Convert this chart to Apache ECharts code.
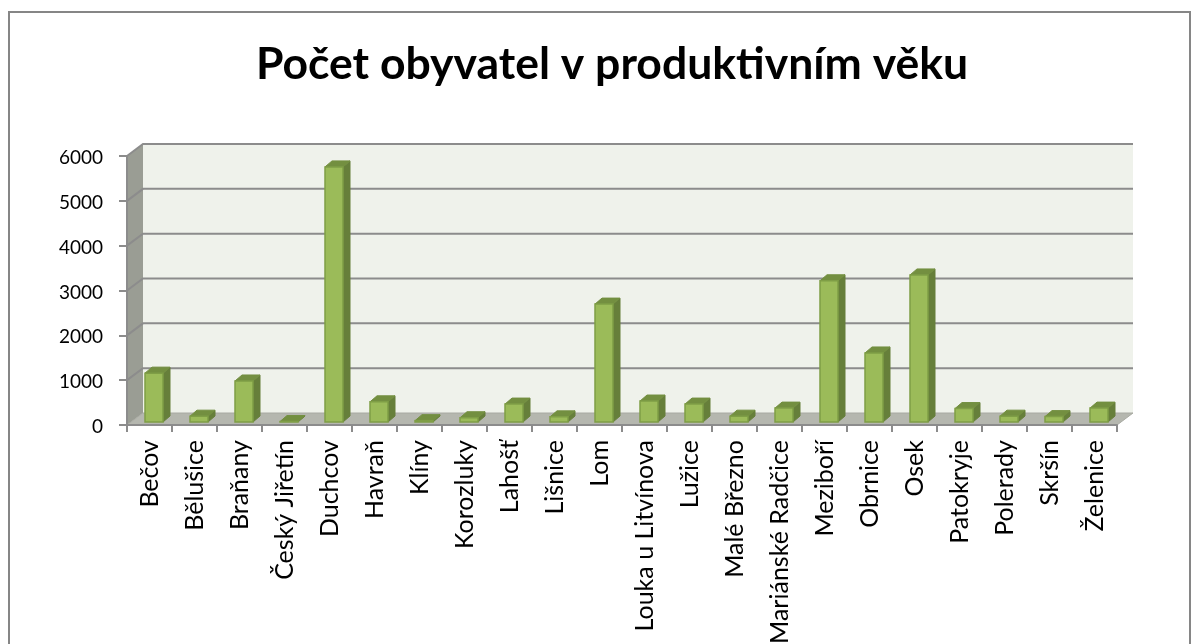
<!DOCTYPE html>
<html><head><meta charset="utf-8">
<style>html,body{margin:0;padding:0;background:#fff;overflow:hidden}#c{width:1202px;height:644px}</style>
<script src="https://cdn.jsdelivr.net/npm/echarts@6/dist/echarts.min.js"></script>
</head><body><div id="c"></div>
<script>
const titleText = 'Počet obyvatel v produktivním věku';
const categories = ['Bečov','Bělušice','Braňany','Český Jiřetín','Duchcov','Havraň','Klíny','Korozluky','Lahošť','Lišnice','Lom','Louka u Litvínova','Lužice','Malé Březno','Mariánské Radčice','Meziboří','Obrnice','Osek','Patokryje','Polerady','Skršín','Želenice'];
const values = [1090,130,915,10,5690,450,30,95,400,115,2630,468,400,130,310,3150,1540,3280,300,130,120,310];
const yTicks = [0,1000,2000,3000,4000,5000,6000];

const WALL_DX = 16, WALL_DY = -12;
const BAR_OFF_X = 4.5, BAR_OFF_Y = -3, BAR_DX = 7, BAR_DY = -6;
const FONT = 'Lato';
const chart = echarts.init(document.getElementById('c'), null, {renderer:'canvas'});

function poly(points, fill, stroke, lw){
  return {type:'polygon', shape:{points}, style:{fill, stroke: stroke||null, lineWidth: lw||0}};
}
function renderWalls(params, api){
  const p0 = api.coord([0,0]);
  const cs = params.coordSys;
  const L = cs.x, R = cs.x+cs.width, B = p0[1], T = cs.y;
  const dx = WALL_DX, dy = WALL_DY;
  return {type:'group', children:[
    poly([[L+dx,T+dy],[R+dx,T+dy],[R+dx,B+dy],[L+dx,B+dy]],'#eff2eb'),
    poly([[L,T],[L+dx,T+dy],[L+dx,B+dy],[L,B]],'#9a9d94'),
    poly([[L,B],[L+dx,B+dy],[R+dx,B+dy],[R,B]],'#b5b7af'),
    {type:'polyline',shape:{points:[[L,B],[L+dx,B+dy],[R+dx,B+dy],[R,B]]},style:{fill:null,stroke:'#a8aaa2',lineWidth:1}}
  ]};
}
function renderGrid(params, api){
  const y = api.coord([0,api.value(0)])[1];
  const cs = params.coordSys;
  const L = cs.x, R = cs.x+cs.width;
  if (api.value(0)===0) return {type:'group',children:[]};
  return {type:'polyline',shape:{points:[[L,y],[L+WALL_DX,y+WALL_DY],[R+WALL_DX,y+WALL_DY]]},
    style:{fill:null,stroke:'#8c8c8c',lineWidth:2}};
}
function renderBar(params, api){
  const c = api.value(0), v = api.value(1);
  const top = api.coord([c,v]), base = api.coord([c,0]);
  const w = api.size([1,0])[0]*0.4;
  const x0 = top[0]-w/2+BAR_OFF_X, x1 = x0+w;
  const yT = top[1]+BAR_OFF_Y, yB = base[1]+BAR_OFF_Y;
  const dx = BAR_DX, dy = BAR_DY;
  return {type:'group',children:[
    poly([[x1,yT],[x1+dx,yT+dy],[x1+dx,yB+dy],[x1,yB]],'#667f3a','#667f3a',1),
    poly([[x0,yT],[x0+dx,yT+dy],[x1+dx,yT+dy],[x1,yT]],'#738f40','#738f40',1),
    poly([[x0,yT],[x1,yT],[x1,yB],[x0,yB]],'#9bbb59','#7f9e46',1.5)
  ]};
}
chart.setOption({
  animation:false,
  backgroundColor:'#fff',
  title:{text:titleText,left:607,top:37,textAlign:'center',textStyle:{fontFamily:FONT,fontWeight:'bold',fontSize:44.5,color:'#000'}},
  graphic:[{type:'rect',silent:true,z:-10,shape:{x:9,y:12,width:1181,height:700},style:{fill:'#fff',stroke:'#868686',lineWidth:2}}],
  grid:{left:127,right:85,top:156,height:269,containLabel:false,outerBoundsMode:'none'},
  xAxis:{type:'category',data:categories,boundaryGap:true,
    axisLine:{show:true,lineStyle:{color:'#8c8c8c',width:2}},
    axisTick:{show:true,length:7,interval:0,alignWithLabel:false,lineStyle:{color:'#8c8c8c',width:2}},
    axisLabel:{interval:0,rotate:90,margin:15,color:'#000',fontFamily:FONT,fontSize:25},
    splitLine:{show:false},z:5},
  yAxis:{type:'value',min:0,max:6000,interval:1000,
    axisLine:{show:true,lineStyle:{color:'#8c8c8c',width:2}},
    axisTick:{show:true,length:8,lineStyle:{color:'#8c8c8c',width:2}},
    axisLabel:{margin:24,color:'#000',fontFamily:FONT,fontSize:19,formatter:v=>'{a|'+v+'}',
      rich:{a:{fontFamily:FONT,fontSize:19,color:'#000',padding:[4,0,0,0]}}},
    splitLine:{show:false},z:5},
  series:[
    {type:'custom',name:'walls',coordinateSystem:'cartesian2d',data:[[0,0]],renderItem:renderWalls,silent:true,z:1,clip:false},
    {type:'custom',name:'grid',coordinateSystem:'cartesian2d',data:yTicks.map(t=>[t]),encode:{y:0},renderItem:renderGrid,silent:true,z:2,clip:false},
    {type:'custom',name:'Počet obyvatel',coordinateSystem:'cartesian2d',data:values.map((v,i)=>[i,v]),encode:{x:0,y:1},renderItem:renderBar,z:3,clip:false}
  ]
});
</script></body></html>
